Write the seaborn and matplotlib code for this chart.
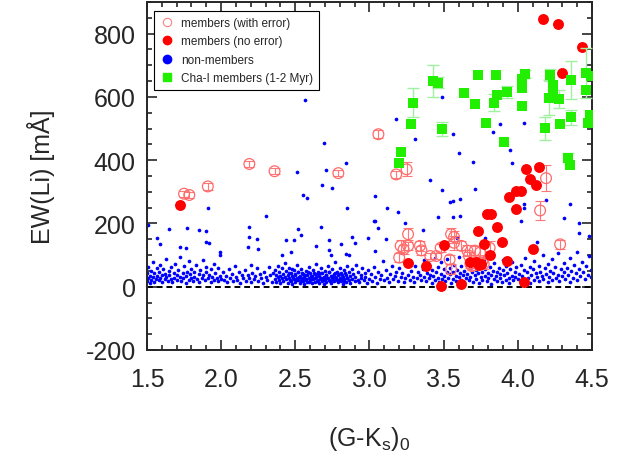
import matplotlib
matplotlib.use("Agg")
import matplotlib.pyplot as plt
from matplotlib.lines import Line2D
from matplotlib.ticker import MultipleLocator
import seaborn as sns
import pandas as pd

# members with error (open circles)
mem_err_x = [1.75, 1.785, 1.91, 2.19, 2.36, 2.79, 3.06, 3.18, 3.25, 4.19, 4.15, 4.285,
             3.26, 3.21, 3.23, 3.26, 3.20, 3.34, 3.35, 3.41, 3.45, 3.48, 3.54, 3.55,
             3.55, 3.57, 3.57, 3.62, 3.66, 3.71, 3.67, 3.745, 3.76, 3.81, 3.68, 3.77, 3.69]
mem_err_y = [294, 290, 317, 388, 365, 359, 482, 355, 371, 343, 241, 134,
             166, 129, 118, 129, 92, 129, 115, 97, 97, 123, 86, 55,
             166, 157, 139, 129, 114, 114, 98, 108, 81, 123, 72, 72, 65]
mem_err_e = [10, 10, 10, 10, 10, 10, 12, 10, 22, 41, 29, 14,
             18, 20, 15, 12, 14, 16, 15, 10, 10, 12, 14, 16,
             20, 18, 22, 14, 18, 15, 12, 20, 14, 22, 12, 16, 12]

# members without error (filled red)
mem_x = [1.72, 4.17, 4.27, 4.43, 4.30, 4.056, 4.14, 4.08, 4.12, 3.94, 3.99, 4.02, 3.99,
         3.795, 3.817, 3.86, 3.73, 3.89, 3.77, 3.50, 4.105, 3.81, 3.68, 3.72, 3.75,
         3.93, 3.26, 3.38, 3.48, 3.62, 4.04, 3.74]
mem_y = [257, 846, 830, 758, 677, 372, 379, 342, 320, 284, 302, 302, 247,
         231, 231, 190, 177, 142, 135, 133, 118, 99, 78, 78, 73,
         82, 76, 66, 1, 10, 16, 69]

# Cha-I members
cha_x = [3.29, 3.28, 3.43, 3.46, 3.49, 3.64, 3.71, 3.73, 3.785, 3.84, 3.85, 3.86,
         3.905, 3.93, 4.03, 4.03, 4.05, 4.03, 4.18, 4.22, 4.24, 4.235, 4.21, 4.275,
         4.285, 4.36, 4.36, 4.46, 4.46, 4.49, 4.485, 4.475, 3.21, 3.20, 4.34, 4.35]
cha_y = [582, 514, 651, 645, 498, 612, 579, 669, 516, 581, 669, 605,
         459, 614, 627, 656, 672, 572, 501, 669, 638, 617, 598, 593,
         515, 653, 535, 675, 622, 667, 543, 519, 427, 392, 408, 385]
cha_e = [47, 0, 50, 17, 23, 0, 0, 0, 0, 27, 0, 0,
         0, 19, 0, 0, 12, 0, 37, 20, 0, 0, 54, 28,
         0, 60, 25, 80, 0, 0, 0, 0, 0, 0, 15, 0]

# non-members: scattered high points
nonmem_high = [
    (2.84, 390), (2.51, 364), (2.71, 370), (2.68, 323), (2.75, 313), (2.55, 289), (2.58, 279),
    (2.85, 248), (1.91, 250), (2.30, 224), (2.19, 190), (2.67, 190), (3.03, 208), (1.65, 181),
    (1.77, 187), (1.85, 178), (1.90, 176), (2.52, 181), (2.54, 164), (2.73, 148), (2.81, 134),
    (2.88, 157), (2.90, 139), (2.99, 153), (2.19, 157), (2.24, 152), (1.92, 139), (1.59, 134),
    (1.72, 127), (1.76, 123), (2.44, 147), (2.49, 149), (2.18, 126), (2.25, 120), (1.565, 155),
    (1.505, 194), (2.73, 117), (2.74, 100), (2.41, 100), (2.47, 111), (1.99, 111), (1.99, 100),
    (2.64, 129), (1.90, 141), (2.84, 104), (2.86, 100), (2.565, 589), (2.69, 455),
    (3.18, 529), (3.49, 601), (3.31, 468), (3.56, 484), (3.83, 490), (3.88, 514), (4.04, 516),
    (3.60, 423), (3.70, 395), (3.96, 392), (3.95, 433), (3.41, 338), (3.71, 309), (3.49, 305),
    (3.04, 287), (3.54, 269), (3.56, 271), (3.61, 277), (4.04, 263), (4.19, 274), (4.35, 263),
    (3.12, 248), (3.19, 237), (4.04, 248), (3.46, 220), (3.56, 220), (3.61, 222), (4.31, 218),
    (4.02, 208), (3.035, 208), (4.41, 201), (3.24, 202), (3.06, 187), (3.36, 178), (4.48, 159),
    (3.11, 152), (3.59, 153), (3.78, 153), (4.13, 141), (4.41, 171), (3.04, 113)]

# non-members: dense band near zero
nonmem_band = [
    (1.50, 42), (1.50, 18), (1.51, 63), (1.51, 27), (1.52, 35), (1.52, 12), (1.53, 51), (1.53, 22),
    (1.54, 78), (1.54, 30), (1.55, 44), (1.55, 16), (1.56, 25), (1.57, 58), (1.57, 34), (1.58, 20),
    (1.58, 47), (1.59, 70), (1.59, 29), (1.60, 38), (1.60, 14), (1.61, 55), (1.62, 24), (1.62, 41),
    (1.63, 88), (1.63, 31), (1.64, 19), (1.65, 49), (1.65, 36), (1.66, 62), (1.66, 23), (1.67, 15),
    (1.68, 44), (1.68, 28), (1.69, 72), (1.70, 37), (1.70, 21), (1.71, 53), (1.72, 30), (1.72, 95),
    (1.73, 17), (1.74, 42), (1.74, 26), (1.75, 66), (1.76, 33), (1.76, 12), (1.77, 48), (1.78, 22),
    (1.78, 80), (1.79, 39), (1.80, 27), (1.80, 57), (1.81, 18), (1.82, 45), (1.82, 32), (1.83, 68),
    (1.84, 24), (1.85, 40), (1.85, 14), (1.86, 52), (1.87, 29), (1.88, 84), (1.88, 36), (1.89, 20),
    (1.90, 47), (1.90, 61), (1.91, 26), (1.92, 38), (1.93, 16), (1.93, 55), (1.94, 31), (1.95, 73),
    (1.95, 22), (1.96, 43), (1.97, 28), (1.98, 59), (1.98, 19), (1.99, 35), (2.00, 25),
    (2.01, 48), (2.02, 21), (2.03, 33), (2.04, 15), (2.05, 57), (2.06, 27), (2.07, 40), (2.08, 18),
    (2.09, 64), (2.10, 30), (2.11, 22), (2.12, 45), (2.13, 12), (2.14, 36), (2.15, 26), (2.16, 52),
    (2.17, 19), (2.18, 38), (2.19, 29), (2.20, 70), (2.20, 14), (2.21, 43), (2.22, 24), (2.23, 33),
    (2.24, 58), (2.25, 17), (2.26, 40), (2.27, 27), (2.28, 11), (2.29, 48), (2.30, 31), (2.31, 21),
    (2.32, 62), (2.33, 36), (2.34, 16), (2.35, 44),
    (2.36, 25), (2.36, 52), (2.37, 14), (2.37, 38), (2.38, 30), (2.38, 67), (2.39, 20), (2.39, 45),
    (2.40, 11), (2.40, 34), (2.41, 58), (2.41, 26), (2.42, 40), (2.42, 17), (2.43, 31), (2.43, 75),
    (2.44, 23), (2.44, 49), (2.45, 13), (2.45, 36), (2.46, 28), (2.46, 60), (2.47, 19), (2.47, 42),
    (2.48, 33), (2.48, 9), (2.49, 54), (2.49, 24), (2.50, 38), (2.50, 15), (2.51, 29), (2.51, 68),
    (2.52, 21), (2.52, 46), (2.53, 12), (2.53, 35), (2.54, 27), (2.54, 57), (2.55, 18), (2.55, 41),
    (2.56, 31), (2.56, 8), (2.57, 50), (2.57, 23), (2.58, 37), (2.58, 14), (2.59, 62), (2.59, 28),
    (2.60, 20), (2.60, 44), (2.61, 33), (2.61, 11), (2.62, 53), (2.62, 25), (2.63, 39), (2.63, 16),
    (2.64, 30), (2.64, 72), (2.65, 22), (2.65, 47), (2.66, 13), (2.66, 35), (2.67, 27), (2.67, 58),
    (2.68, 19), (2.68, 42), (2.69, 31), (2.69, 10), (2.70, 51), (2.70, 24), (2.71, 37), (2.71, 15),
    (2.72, 65), (2.72, 29), (2.73, 21), (2.73, 45), (2.74, 33), (2.74, 12), (2.75, 55), (2.75, 26),
    (2.76, 40), (2.76, 17), (2.77, 30), (2.77, 78), (2.78, 22), (2.78, 48), (2.79, 14), (2.79, 36),
    (2.80, 28), (2.80, 60), (2.81, 19), (2.81, 43), (2.82, 32), (2.82, 9), (2.83, 52), (2.83, 24),
    (2.84, 38), (2.84, 15), (2.85, 66), (2.85, 27), (2.86, 20), (2.86, 45), (2.87, 34), (2.87, 12),
    (2.88, 56), (2.88, 25), (2.89, 39), (2.90, 18), (2.90, 30), (2.91, 70), (2.92, 22), (2.92, 47),
    (2.93, 14), (2.94, 36), (2.94, 28), (2.95, 59), (2.96, 20), (2.97, 42), (2.97, 31), (2.98, 11),
    (2.99, 52), (3.00, 25),
    (2.455, 44), (2.465, 21), (2.475, 55), (2.485, 26), (2.495, 40), (2.505, 22), (2.515, 48),
    (2.525, 30), (2.535, 19), (2.545, 42), (2.555, 26), (2.565, 36), (2.575, 20), (2.585, 46),
    (2.595, 16), (2.605, 35), (2.615, 24), (2.625, 43), (2.635, 27), (2.645, 18), (2.655, 39),
    (2.665, 23), (2.675, 44), (2.685, 29), (2.695, 20), (2.705, 38), (2.715, 26), (2.725, 48),
    (2.735, 18), (2.745, 35), (2.755, 22), (2.765, 44), (2.775, 28), (2.785, 20), (2.795, 41),
    (2.805, 25), (2.815, 36), (2.825, 18), (2.835, 43), (2.845, 29),
    (3.01, 40), (3.02, 18), (3.03, 62), (3.04, 30), (3.05, 12), (3.06, 47), (3.07, 25), (3.08, 36),
    (3.09, 80), (3.10, 20), (3.11, 53), (3.12, 28), (3.13, 15), (3.14, 41), (3.15, 67), (3.16, 23),
    (3.17, 34), (3.18, 48), (3.19, 19), (3.20, 58), (3.21, 30), (3.22, 42), (3.23, 14), (3.24, 26),
    (3.25, 75), (3.26, 37), (3.27, 21), (3.28, 50), (3.29, 32), (3.30, 16), (3.31, 64), (3.32, 27),
    (3.33, 45), (3.34, 38), (3.35, 20),
    (3.36, 55), (3.37, 30), (3.37, 85), (3.38, 17), (3.39, 44), (3.40, 26), (3.40, 68), (3.41, 38),
    (3.42, 12), (3.42, 52), (3.43, 33), (3.44, 92), (3.44, 22), (3.45, 47), (3.46, 29), (3.46, 63),
    (3.47, 15), (3.48, 40), (3.48, 78), (3.49, 25), (3.50, 55), (3.50, 34), (3.51, 18), (3.52, 48),
    (3.52, 87), (3.53, 28), (3.54, 60), (3.54, 39), (3.55, 13), (3.56, 45), (3.56, 24), (3.57, 70),
    (3.58, 35), (3.58, 19), (3.59, 52), (3.60, 30), (3.60, 95), (3.61, 42), (3.62, 22), (3.62, 64),
    (3.63, 36), (3.64, 14), (3.64, 50), (3.65, 27), (3.66, 82), (3.66, 40), (3.67, 20), (3.68, 58),
    (3.68, 32), (3.69, 45), (3.70, 16), (3.70, 72), (3.71, 37), (3.72, 25), (3.72, 54), (3.73, 42),
    (3.74, 12), (3.74, 66), (3.75, 30), (3.76, 48), (3.76, 21), (3.77, 88), (3.78, 35), (3.78, 56),
    (3.79, 17), (3.80, 44), (3.80, 27), (3.81, 62), (3.82, 38), (3.82, 10), (3.83, 51), (3.84, 24),
    (3.84, 75), (3.85, 33), (3.86, 46), (3.86, 18), (3.87, 60), (3.88, 29), (3.88, 40), (3.89, 14),
    (3.90, 53), (3.90, 85), (3.91, 36), (3.92, 22), (3.92, 66), (3.93, 43), (3.94, 28), (3.94, 12),
    (3.95, 57), (3.96, 34), (3.96, 78), (3.97, 20), (3.98, 47), (3.98, 31), (3.99, 63), (4.00, 25),
    (4.01, 40), (4.02, 15), (4.02, 70), (4.03, 33), (4.04, 52), (4.05, 22), (4.05, 90), (4.06, 45),
    (4.07, 28), (4.08, 62), (4.08, 12), (4.09, 37), (4.10, 55), (4.11, 20), (4.11, 80), (4.12, 42),
    (4.13, 30), (4.14, 66), (4.14, 17), (4.15, 48), (4.16, 35), (4.17, 100), (4.17, 24), (4.18, 58),
    (4.19, 40), (4.20, 14), (4.20, 72), (4.21, 31), (4.22, 50), (4.23, 22), (4.23, 88), (4.24, 44),
    (4.25, 62), (4.26, 27), (4.27, 38), (4.27, 105), (4.28, 18), (4.29, 55), (4.30, 33), (4.31, 75),
    (4.31, 46), (4.32, 24), (4.33, 60), (4.34, 36), (4.35, 15), (4.35, 92), (4.36, 50), (4.37, 28),
    (4.38, 68), (4.39, 42), (4.40, 20), (4.40, 110), (4.41, 56), (4.42, 34), (4.43, 78), (4.44, 46),
    (4.45, 25), (4.46, 64), (4.47, 38), (4.48, 98), (4.49, 52), (4.49, 30)]

sns.set_style("ticks")
plt.rcParams['font.family'] = ['Liberation Sans', 'DejaVu Sans']
plt.rcParams['mathtext.default'] = 'regular'
plt.rcParams['axes.unicode_minus'] = False

nonmem = pd.DataFrame(nonmem_band + nonmem_high, columns=['x', 'y'])

fig = plt.figure(figsize=(6.3, 4.6), dpi=100)
ax = fig.add_axes([0.2333, 0.237, 0.7064, 0.7565])

ax.axhline(0, color='black', linestyle=(0, (3, 2)), linewidth=1.4, zorder=1)

sns.scatterplot(data=nonmem, x='x', y='y', color='#0000ff', s=7, linewidth=0,
                ax=ax, zorder=2, legend=False)

ax.errorbar(mem_err_x, mem_err_y, yerr=mem_err_e, fmt='none', ecolor='#ff7878',
            elinewidth=0.8, capsize=3.5, capthick=0.8, zorder=3)
ax.scatter(mem_err_x, mem_err_y, s=60, facecolors='none', edgecolors='#ff6a6a',
           linewidths=0.9, zorder=3)

sns.scatterplot(x=mem_x, y=mem_y, color='#ff0000', s=62, linewidth=0, ax=ax,
                zorder=4, legend=False)

cha_ex = [c for c, e in zip(cha_x, cha_e) if e > 0]
cha_ey = [c for c, e in zip(cha_y, cha_e) if e > 0]
cha_ee = [e for e in cha_e if e > 0]
ax.errorbar(cha_ex, cha_ey, yerr=cha_ee, fmt='none', ecolor='#a0f0a0',
            elinewidth=1.0, capsize=4, capthick=1.0, zorder=5)
sns.scatterplot(x=cha_x, y=cha_y, color='#22ee00', marker='s', s=55, linewidth=0,
                ax=ax, zorder=6, legend=False)

ax.set_xlim(1.5, 4.5)
ax.set_ylim(-200, 900)
ax.xaxis.set_major_locator(MultipleLocator(0.5))
ax.xaxis.set_minor_locator(MultipleLocator(0.1))
ax.yaxis.set_major_locator(MultipleLocator(200))
ax.yaxis.set_minor_locator(MultipleLocator(50))
ax.xaxis.set_major_formatter(matplotlib.ticker.FormatStrFormatter('%.1f'))
ax.tick_params(which='both', direction='in', top=True, right=True, width=1.2)
ax.tick_params(which='major', length=7, labelsize=18)
ax.tick_params(which='minor', length=3.5)
ax.tick_params(axis='x', pad=12)
ax.tick_params(axis='y', pad=8)
for sp in ax.spines.values():
    sp.set_linewidth(1.4)
    sp.set_visible(True)

ax.set_xlabel('(G-K$_s$)$_0$', fontsize=18, labelpad=24)
ax.set_ylabel('EW(Li) [mÅ]', fontsize=18, labelpad=22)

handles = [
    Line2D([], [], linestyle='none', marker='o', markersize=6, markerfacecolor='none',
           markeredgecolor='#ff8080', markeredgewidth=0.8, label='members (with error)'),
    Line2D([], [], linestyle='none', marker='o', markersize=6, markerfacecolor='#ff0000',
           markeredgecolor='#ff0000', label='members (no error)'),
    Line2D([], [], linestyle='none', marker='o', markersize=6, markerfacecolor='#0000ff',
           markeredgecolor='#0000ff', label='non-members'),
    Line2D([], [], linestyle='none', marker='s', markersize=6, markerfacecolor='#22ee00',
           markeredgecolor='#22ee00', label='Cha-I members (1-2 Myr)'),
]
leg = ax.legend(handles=handles, loc='upper left', bbox_to_anchor=(0.016, 0.974),
                borderaxespad=0, fontsize=8.5, frameon=True, fancybox=False,
                framealpha=1, edgecolor='black', handletextpad=0.6, labelspacing=0.55,
                handlelength=1.2, borderpad=0.5)
leg.get_frame().set_linewidth(0.8)

fig.savefig('out.png', dpi=100)
